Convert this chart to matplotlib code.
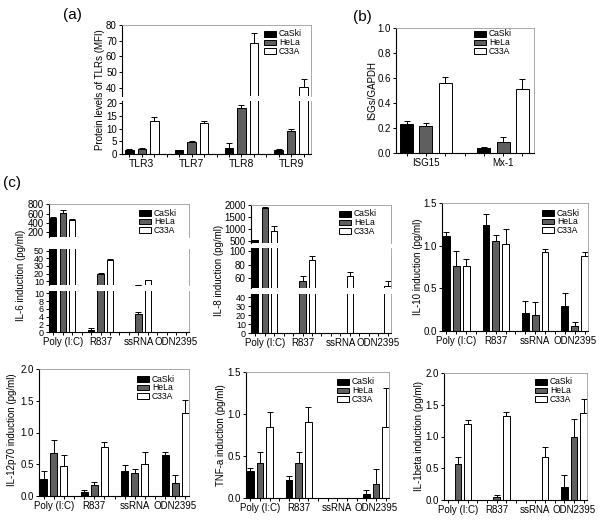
import numpy as np
import matplotlib
matplotlib.use('Agg')
import matplotlib.pyplot as plt
from matplotlib.patches import Rectangle

plt.rcParams['font.family'] = ['Liberation Sans', 'DejaVu Sans']

nan = np.nan
cells = ['CaSki', 'HeLa', 'C33A']
colors = ['black', '#5f5f5f', 'white']

# (a) TLR protein levels
tlr_names = ['TLR3', 'TLR7', 'TLR8', 'TLR9']
tlr_caski = [1.5, 1.5, 2.5, 1.5]
tlr_caski_err = [0.3, 0.2, 1.7, 0.5]
tlr_hela = [2.0, 4.7, 18.2, 9.0]
tlr_hela_err = [0.3, 0.3, 1.1, 1.0]
tlr_c33a = [13.0, 12.3, 68.8, 40.4]
tlr_c33a_err = [1.4, 0.8, 5.9, 4.9]

# (b) ISGs
isg_names = ['ISG15', 'Mx-1']
isg_caski = [0.235, 0.04]
isg_caski_err = [0.025, 0.008]
isg_hela = [0.22, 0.085]
isg_hela_err = [0.02, 0.04]
isg_c33a = [0.56, 0.51]
isg_c33a_err = [0.05, 0.08]

# (c) cytokines
stims = ['Poly (I:C)', 'R837', 'ssRNA', 'ODN2395']

il6_caski = [515, 0.6, nan, nan]
il6_caski_err = [15, 0.6, nan, nan]
il6_hela = [625, 19.5, 4.7, nan]
il6_hela_err = [60, 1.5, 0.4, nan]
il6_c33a = [472, 37, 11, nan]
il6_c33a_err = [25, 2.5, 0.3, nan]

il8_caski = [520, nan, nan, nan]
il8_caski_err = [20, nan, nan, nan]
il8_hela = [1870, 56, nan, nan]
il8_hela_err = [30, 7, nan, nan]
il8_c33a = [930, 86, 63, 48.5]
il8_c33a_err = [190, 6, 6, 7.5]

il10_caski = [1.11, 1.24, 0.21, 0.29]
il10_caski_err = [0.05, 0.13, 0.14, 0.16]
il10_hela = [0.76, 1.06, 0.19, 0.055]
il10_hela_err = [0.18, 0.06, 0.15, 0.055]
il10_c33a = [0.76, 1.02, 0.92, 0.875]
il10_c33a_err = [0.08, 0.18, 0.04, 0.05]

il12_caski = [0.27, 0.06, 0.40, 0.65]
il12_caski_err = [0.13, 0.04, 0.09, 0.05]
il12_hela = [0.68, 0.17, 0.37, 0.21]
il12_hela_err = [0.2, 0.05, 0.05, 0.12]
il12_c33a = [0.48, 0.77, 0.51, 1.31]
il12_c33a_err = [0.17, 0.08, 0.19, 0.2]

tnf_caski = [0.32, 0.22, nan, 0.05]
tnf_caski_err = [0.04, 0.04, nan, 0.05]
tnf_hela = [0.42, 0.42, nan, 0.17]
tnf_hela_err = [0.13, 0.13, nan, 0.17]
tnf_c33a = [0.84, 0.91, nan, 0.85]
tnf_c33a_err = [0.18, 0.17, nan, 0.46]

il1b_caski = [nan, nan, nan, 0.2]
il1b_caski_err = [nan, nan, nan, 0.2]
il1b_hela = [0.57, 0.05, nan, 1.0]
il1b_hela_err = [0.11, 0.03, nan, 0.27]
il1b_c33a = [1.19, 1.32, 0.68, 1.37]
il1b_c33a_err = [0.07, 0.07, 0.15, 0.22]

W, H = 600, 520
fig = plt.figure(figsize=(6, 5.2), dpi=100)
FS = 7
LFS = 6.2


def px_axes(left, top, right, bottom):
    return fig.add_axes([left / W, 1 - bottom / H, (right - left) / W, (bottom - top) / H])


def draw_bars(ax, vals, errs, names, xlim, yticks, ylim, top=True, bottom=True, xfs=FS, yfs=FS):
    n = len(names)
    for c in range(3):
        x = np.arange(n) * 4 + c
        v = np.array(vals[c], float)
        e = np.array(errs[c], float)
        ax.bar(x, v, width=0.68, color=colors[c], edgecolor='black', linewidth=0.7, zorder=2)
        ax.errorbar(x, v, yerr=[np.zeros_like(e), e], fmt='none', ecolor='black',
                    elinewidth=0.7, capsize=2, capthick=0.7, zorder=1)
    ax.set_xlim(*xlim)
    ax.set_ylim(*ylim)
    ax.set_yticks(yticks)
    ax.set_xticks(np.arange(n) * 4 + 1)
    ax.set_xticks(np.arange(n * 4 - 1), minor=True)
    ax.set_xticklabels(names, fontsize=xfs)
    ax.spines['left'].set_linewidth(0.8)
    ax.spines['bottom'].set_linewidth(0.8)
    for s in ['top', 'right']:
        ax.spines[s].set_color('#9a9a9a')
        ax.spines[s].set_linewidth(0.6)
    if not top:
        ax.spines['top'].set_visible(False)
    if not bottom:
        ax.spines['bottom'].set_visible(False)
        ax.tick_params(axis='x', which='both', bottom=False, labelbottom=False)
    ax.tick_params(which='both', direction='out', length=2.5, width=0.7, pad=1.2)
    ax.tick_params(axis='y', labelsize=yfs)


def legend_at(x, y, dy=8.6):
    for i in range(3):
        yy = y + i * dy
        fig.add_artist(Rectangle((x / W, 1 - (yy + 2.8) / H), 12 / W, 5.6 / H,
                                 facecolor=colors[i], edgecolor='black', lw=0.7,
                                 transform=fig.transFigure))
        fig.text((x + 15) / W, 1 - yy / H, cells[i], fontsize=LFS, va='center')


def ylabel_at(x, y, txt):
    fig.text(x / W, 1 - y / H, txt, fontsize=FS, rotation=90, ha='center', va='center')


# ---- (a)
a_vals = [tlr_caski, tlr_hela, tlr_c33a]
a_errs = [tlr_caski_err, tlr_hela_err, tlr_c33a_err]
ax = px_axes(122, 25, 311, 96)
draw_bars(ax, a_vals, a_errs, tlr_names, (-0.6, 14.6), [40, 50, 60, 70, 80], (34.7, 80), bottom=False)
ax = px_axes(122, 100.5, 311, 154)
draw_bars(ax, a_vals, a_errs, tlr_names, (-0.6, 14.6), [0, 5, 10, 15, 20], (0, 21), top=False, xfs=7.5)
ylabel_at(100, 90, 'Protein levels of TLRs (MFI)')
legend_at(264, 34)
fig.text(63 / W, 1 - 15 / H, '(a)', fontsize=11, va='center')

# ---- (b)
ax = px_axes(396, 28, 534, 153)
draw_bars(ax, [isg_caski, isg_hela, isg_c33a], [isg_caski_err, isg_hela_err, isg_c33a_err],
          isg_names, (-0.55, 6.6), [0, 0.2, 0.4, 0.6, 0.8, 1.0], (0, 1.0))
ax.set_yticklabels(['0.0', '0.2', '0.4', '0.6', '0.8', '1.0'])
ylabel_at(372, 90, 'ISGs/GAPDH')
legend_at(474, 34)
fig.text(353 / W, 1 - 17 / H, '(b)', fontsize=11, va='center')

fig.text(3 / W, 1 - 183 / H, '(c)', fontsize=11, va='center')
cx = (-0.45, 14.35)

# ---- IL-6 (broken)
v6 = [il6_caski, il6_hela, il6_c33a]
e6 = [il6_caski_err, il6_hela_err, il6_c33a_err]
ax = px_axes(49, 204, 189, 237)
draw_bars(ax, v6, e6, stims, cx, [200, 400, 600, 800], (100, 810), bottom=False)
ax = px_axes(49, 249, 189, 285)
draw_bars(ax, v6, e6, stims, cx, [10, 20, 30, 40, 50], (5, 52), top=False, bottom=False, yfs=6.5)
ax = px_axes(49, 291, 189, 332.3)
draw_bars(ax, v6, e6, stims, cx, [0, 2, 4, 6, 8, 10], (0, 10.6), top=False, yfs=6.5)
ylabel_at(21, 275, 'IL-6 induction (pg/ml)')
legend_at(139, 213)

# ---- IL-8 (broken)
v8 = [il8_caski, il8_hela, il8_c33a]
e8 = [il8_caski_err, il8_hela_err, il8_c33a_err]
ax = px_axes(251, 205, 391, 243)
draw_bars(ax, v8, e8, stims, cx, [500, 1000, 1500, 2000], (415, 2000), bottom=False)
ax = px_axes(251, 248, 391, 288)
draw_bars(ax, v8, e8, stims, cx, [60, 80, 100], (46, 104), top=False, bottom=False)
ax = px_axes(251, 294, 391, 333.3)
draw_bars(ax, v8, e8, stims, cx, [0, 10, 20, 30, 40], (0, 43.7), top=False, yfs=6.5)
ylabel_at(219, 270, 'IL-8 induction (pg/ml)')
legend_at(339, 214)

# ---- IL-10
ax = px_axes(442, 203, 588, 331)
draw_bars(ax, [il10_caski, il10_hela, il10_c33a], [il10_caski_err, il10_hela_err, il10_c33a_err],
          stims, cx, [0, 0.5, 1.0, 1.5], (0, 1.5))
ax.set_yticklabels(['0.0', '0.5', '1.0', '1.5'])
ylabel_at(418, 267, 'IL-10 induction (pg/ml)')
legend_at(542, 213)

# ---- IL-12p70
ax = px_axes(39, 369, 189, 496)
draw_bars(ax, [il12_caski, il12_hela, il12_c33a], [il12_caski_err, il12_hela_err, il12_c33a_err],
          stims, cx, [0, 0.5, 1.0, 1.5, 2.0], (0, 2.0))
ax.set_yticklabels(['0.0', '0.5', '1.0', '1.5', '2.0'])
ylabel_at(12, 430, 'IL-12p70 induction (pg/ml)')
legend_at(137, 379)

# ---- TNF-a
ax = px_axes(246, 372, 389, 498)
draw_bars(ax, [tnf_caski, tnf_hela, tnf_c33a], [tnf_caski_err, tnf_hela_err, tnf_c33a_err],
          stims, cx, [0, 0.5, 1.0, 1.5], (0, 1.5))
ax.set_yticklabels(['0.0', '0.5', '1.0', '1.5'])
ylabel_at(221, 435, 'TNF-a induction (pg/ml)')
legend_at(337, 382)

# ---- IL-1beta
ax = px_axes(444, 373, 587, 500)
draw_bars(ax, [il1b_caski, il1b_hela, il1b_c33a], [il1b_caski_err, il1b_hela_err, il1b_c33a_err],
          stims, cx, [0, 0.5, 1.0, 1.5, 2.0], (0, 2.0))
ax.set_yticklabels(['0.0', '0.5', '1.0', '1.5', '2.0'])
ylabel_at(419, 436, 'IL-1beta induction (pg/ml)')
legend_at(535, 382)

fig.savefig('out.png', dpi=100)
